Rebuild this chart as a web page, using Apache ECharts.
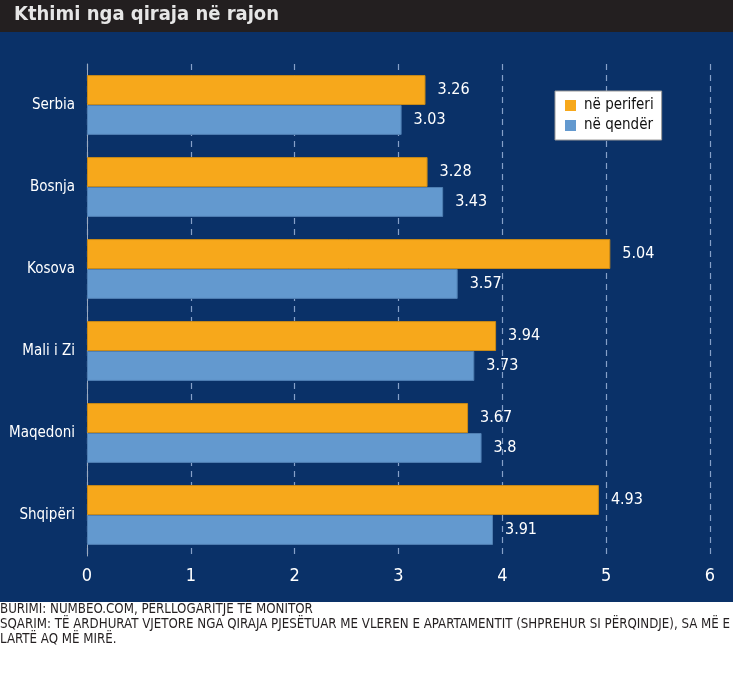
<!DOCTYPE html>
<html><head><meta charset="utf-8">
<script src="https://cdn.jsdelivr.net/npm/echarts@6/dist/echarts.min.js"></script>
<style>html,body{margin:0;padding:0;background:#fff}#c{width:750px;height:674px}</style>
</head><body><div id="c"></div>
<script>
const categories = ['Serbia','Bosnja','Kosova','Mali i Zi','Maqedoni','Shqipëri'];
const periferi = [3.26, 3.28, 5.04, 3.94, 3.67, 4.93];
const qender = [3.03, 3.43, 3.57, 3.73, 3.8, 3.91];
const seriesNames = ['në periferi','në qendër'];
const xTicks = [0,1,2,3,4,5,6];
const title = 'Kthimi nga qiraja në rajon';
const notes = ['BURIMI: NUMBEO.COM, PËRLLOGARITJE TË MONITOR',
 'SQARIM: TË ARDHURAT VJETORE NGA QIRAJA PJESËTUAR ME VLEREN E APARTAMENTIT (SHPREHUR SI PËRQINDJE), SA MË E',
 'LARTË AQ MË MIRË.'];
const FONT = '"Liberation Sans Narrow","DejaVu Sans Condensed",sans-serif';
const chart = echarts.init(document.getElementById('c'));
chart.setOption({
  animation:false,
  backgroundColor:'#ffffff',
  graphic:[
    {type:'rect',z:-10,shape:{x:0,y:0,width:733,height:32},style:{fill:'#231f20'}},
    {type:'rect',z:-10,shape:{x:0,y:32,width:733,height:570},style:{fill:'#0a3168'}},
    {type:'text',left:14,top:5,style:{text:title,fill:'#e6e6e6',font:'bold 20px '+FONT}},
    {type:'text',left:0,top:602,style:{text:notes.join('\n'),fill:'#231f20',font:'13.2px '+FONT,lineHeight:15}}
  ],
  legend:{
    orient:'vertical',left:555,top:91,
    backgroundColor:'#ffffff',borderColor:'#999',borderWidth:1,
    padding:[7,8,7,10],itemWidth:11,itemHeight:11,itemGap:5,
    icon:'rect',
    itemStyle:{borderWidth:0},
    textStyle:{color:'#111',fontFamily:FONT,fontSize:15,padding:[0,0,0,3]},
    data:seriesNames
  },
  grid:{left:87,right:40,top:64,bottom:118,containLabel:false},
  xAxis:{
    type:'value',min:0,max:6,interval:1,
    axisLine:{show:false},axisTick:{show:false},
    axisLabel:{color:'#ffffff',fontFamily:FONT,fontSize:18,margin:11},
    splitLine:{show:true,lineStyle:{color:'#86a0c8',type:[6,5],width:1.2}}
  },
  yAxis:{
    type:'category',data:categories,inverse:true,
    axisLine:{show:true,lineStyle:{color:'#9aa9c0',width:1}},
    axisTick:{show:false},
    axisLabel:{color:'#ffffff',fontFamily:FONT,fontSize:15,margin:12}
  },
  series:[
    {name:seriesNames[0],type:'bar',data:periferi,barGap:'0%',barCategoryGap:'27%',
     itemStyle:{color:'#f7a81b',borderColor:'#c98a17',borderWidth:1},
     label:{show:true,position:'right',distance:12,color:'#ffffff',fontFamily:FONT,fontSize:16}},
    {name:seriesNames[1],type:'bar',data:qender,barGap:'0%',barCategoryGap:'27%',
     itemStyle:{color:'#6399cf',borderColor:'#4f7fb3',borderWidth:1},
     label:{show:true,position:'right',distance:12,color:'#ffffff',fontFamily:FONT,fontSize:16}}
  ]
});
</script></body></html>
